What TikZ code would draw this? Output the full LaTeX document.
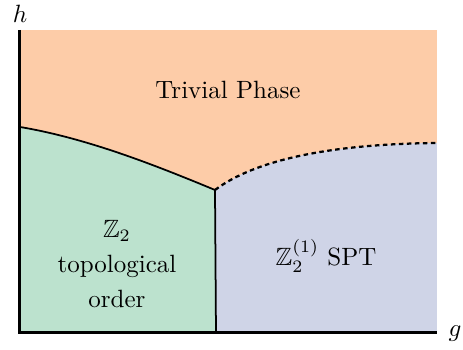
\documentclass[tikz,border=0pt]{standalone}
\usepackage{amssymb}
\usepackage{tikz}

\definecolor{trivcol}{RGB}{253,204,168}
\definecolor{topocol}{RGB}{188,226,206}
\definecolor{sptcol}{RGB}{207,212,231}

\begin{document}
\begin{tikzpicture}[x=0.4pt,y=-0.4pt]
\tikzstyle{axis}=[line width=1.2pt]
\tikzstyle{border}=[line width=0.7pt]
\tikzstyle{crossover}=[line width=0.9pt,dash pattern=on 1.8pt off 1.4pt]
\tikzstyle{every node}=[align=center]
\useasboundingbox (0,0) rectangle (463,350);
\coordinate (origin) at (20,333);
\coordinate (htop) at (20,30);
\coordinate (gend) at (437,333);
\coordinate (corner) at (437,30);
\coordinate (hstart) at (20,127);
\coordinate (tri) at (215,190);
\coordinate (bot) at (216,333);
\coordinate (rend) at (437,143);
% phases
\fill[trivcol] (origin) rectangle (corner);
\fill[topocol] (hstart) .. controls (85,138) and (150,163) .. (tri) -- (bot) -- (origin) -- cycle;
\fill[sptcol] (tri) .. controls (255,160) and (330,144) .. (rend) -- (gend) -- (bot) -- cycle;
% transitions
\draw[border] (hstart) .. controls (85,138) and (150,163) .. (tri) -- (bot);
\draw[crossover] (tri) .. controls (255,160) and (330,144) .. (rend);
% axes
\draw[axis] (htop) -- (origin) -- (gend);
\node (hlab) at (20,14) {$h$};
\node (glab) at (455,334) {$g$};
\node (triv) at (228,90) {Trivial Phase};
\node (topo) at (117,264) {$\mathbb{Z}_2$\\[2pt]topological\\[2pt]order};
\node (spt) at (326,256) {$\mathbb{Z}_2^{(1)}$ SPT};
\end{tikzpicture}
\end{document}
